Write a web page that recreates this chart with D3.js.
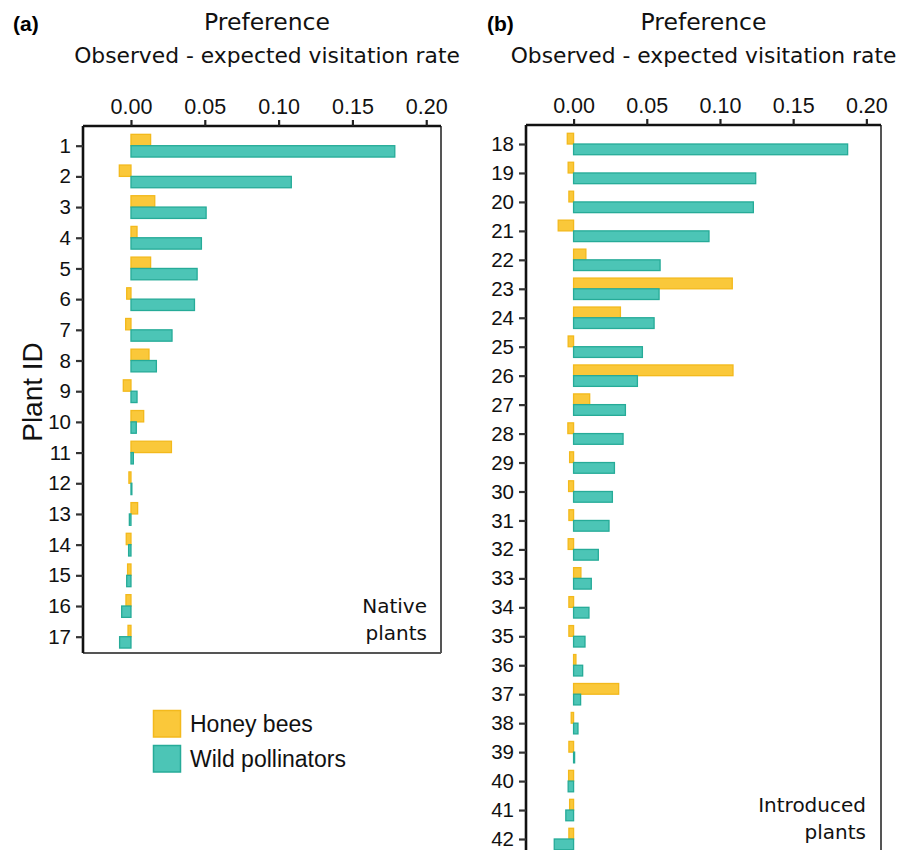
<!DOCTYPE html>
<html>
<head>
<meta charset="utf-8">
<script src="https://cdn.jsdelivr.net/npm/d3@7"></script>
<style>
  html, body { margin: 0; padding: 0; background: #fff; }
  svg { display: block; }
</style>
</head>
<body>
<svg id="chart" width="898" height="850"></svg>
<script>
// Plant IDs and preference (observed - expected visitation rate)
const plantsNative = [1,2,3,4,5,6,7,8,9,10,11,12,13,14,15,16,17];
const honeyNative = [0.0133,-0.0079,0.0161,0.0041,0.0133,-0.0029,-0.0036,0.0122,-0.0052,0.0086,0.0274,-0.0014,0.0045,-0.0032,-0.0023,-0.0034,-0.0020];
const wildNative  = [0.1787,0.1086,0.0509,0.0477,0.0448,0.0430,0.0278,0.0172,0.0041,0.0036,0.0016,0.0006,-0.0011,-0.0016,-0.0029,-0.0063,-0.0077];

const plantsIntroduced = [18,19,20,21,22,23,24,25,26,27,28,29,30,31,32,33,34,35,36,37,38,39,40,41,42];
const honeyIntroduced = [-0.0043,-0.0037,-0.0032,-0.0105,0.0084,0.1084,0.0320,-0.0037,0.1089,0.0110,-0.0039,-0.0027,-0.0034,-0.0032,-0.0037,0.0050,-0.0032,-0.0032,0.0016,0.0308,-0.0016,-0.0032,-0.0034,-0.0027,-0.0032];
const wildIntroduced  = [0.1872,0.1244,0.1228,0.0925,0.0591,0.0584,0.0550,0.0470,0.0436,0.0354,0.0338,0.0279,0.0265,0.0242,0.0169,0.0121,0.0105,0.0078,0.0062,0.0048,0.0030,0.0007,-0.0037,-0.0053,-0.0132];

const xTicks = [0, 0.05, 0.10, 0.15, 0.20];
const xTickLabels = ["0.00", "0.05", "0.10", "0.15", "0.20"];
const seriesNames = ["Honey bees", "Wild pollinators"];

const HONEY_FILL = "#fac83a", HONEY_STROKE = "#f3b91c";
const WILD_FILL = "#4cc5b6", WILD_STROKE = "#26ab98";
const TITLE_FONT = "'DejaVu Sans', sans-serif";
const AXIS_FONT = "'Liberation Sans', Arial, sans-serif";

const svg = d3.select("#chart");
const xDomain = [-0.0325, 0.21];

function panel(cfg) {
  const g = svg.append("g");
  const x = d3.scaleLinear().domain(xDomain).range([cfg.left, cfg.right]);
  const y = d3.scalePoint().domain(cfg.ids).range([cfg.firstRow, cfg.lastRow]);
  const step = y.step();
  const barH = step * 0.37;

  // panel letter and titles
  g.append("text").attr("x", cfg.letterX).attr("y", 31)
    .attr("font-family", AXIS_FONT).attr("font-weight", "bold").attr("font-size", 21)
    .text(cfg.letter);
  g.append("text").attr("x", cfg.titleX).attr("y", 30).attr("text-anchor", "middle")
    .attr("font-family", TITLE_FONT).attr("font-size", 23.5).attr("fill", "#111")
    .text("Preference");
  g.append("text").attr("x", cfg.titleX).attr("y", 63).attr("text-anchor", "middle")
    .attr("font-family", TITLE_FONT).attr("font-size", 21.8).attr("fill", "#111")
    .text("Observed - expected visitation rate");

  // bars
  const rows = cfg.ids.map((id, i) => ({ id, honey: cfg.honey[i], wild: cfg.wild[i] }));
  g.selectAll("rect.honey").data(rows).join("rect")
    .attr("class", "honey")
    .attr("x", d => x(Math.min(0, d.honey)))
    .attr("width", d => Math.abs(x(d.honey) - x(0)))
    .attr("y", d => y(d.id) - barH)
    .attr("height", barH)
    .attr("fill", HONEY_FILL).attr("stroke", HONEY_STROKE).attr("stroke-width", 1.3);
  g.selectAll("rect.wild").data(rows).join("rect")
    .attr("class", "wild")
    .attr("x", d => x(Math.min(0, d.wild)))
    .attr("width", d => Math.abs(x(d.wild) - x(0)))
    .attr("y", d => y(d.id))
    .attr("height", barH)
    .attr("fill", WILD_FILL).attr("stroke", WILD_STROKE).attr("stroke-width", 1.3);

  // frame: right and bottom edges lighter
  g.append("line").attr("x1", cfg.right).attr("x2", cfg.right).attr("y1", cfg.top).attr("y2", cfg.bottom)
    .attr("stroke", "#555").attr("stroke-width", 2);
  g.append("line").attr("x1", cfg.left).attr("x2", cfg.right).attr("y1", cfg.bottom).attr("y2", cfg.bottom)
    .attr("stroke", "#555").attr("stroke-width", 2);

  // top axis
  const xAxis = d3.axisTop(x).tickValues(xTicks).tickSize(6).tickPadding(6)
    .tickFormat((d, i) => xTickLabels[i]);
  const gx = g.append("g").attr("transform", `translate(0,${cfg.top})`).call(xAxis);
  gx.select(".domain").attr("stroke", "#111").attr("stroke-width", 2.6)
    .attr("d", `M${cfg.left},0H${cfg.right}`);
  gx.selectAll(".tick line").attr("stroke", "#222").attr("stroke-width", 2.2);
  gx.selectAll(".tick text").attr("font-family", AXIS_FONT).attr("font-size", 21.5).attr("fill", "#111");

  // left axis
  const yAxis = d3.axisLeft(y).tickSize(7).tickPadding(5);
  const gy = g.append("g").attr("transform", `translate(${cfg.left},0)`).call(yAxis);
  gy.select(".domain").attr("stroke", "#111").attr("stroke-width", 2.6)
    .attr("d", `M0,${cfg.top}V${cfg.bottom}`);
  gy.selectAll(".tick line").attr("stroke", "#333").attr("stroke-width", 2.2);
  gy.selectAll(".tick text").attr("font-family", AXIS_FONT).attr("font-size", 20.5).attr("fill", "#111");

  // group note
  const note = g.append("text").attr("text-anchor", "end")
    .attr("font-family", TITLE_FONT).attr("font-size", 20).attr("fill", "#111");
  note.append("tspan").attr("x", cfg.noteX).attr("y", cfg.noteY).text(cfg.note[0]);
  note.append("tspan").attr("x", cfg.noteX).attr("y", cfg.noteY + 27).text(cfg.note[1]);
}

panel({
  letter: "(a)", letterX: 13, titleX: 267,
  ids: plantsNative, honey: honeyNative, wild: wildNative,
  left: 83, right: 441, top: 126, bottom: 653,
  firstRow: 145.7, lastRow: 636.7,
  note: ["Native", "plants"], noteX: 427, noteY: 612.5
});

panel({
  letter: "(b)", letterX: 487, titleX: 703.5,
  ids: plantsIntroduced, honey: honeyIntroduced, wild: wildIntroduced,
  left: 526, right: 881, top: 125, bottom: 900,
  firstRow: 144, lastRow: 839,
  note: ["Introduced", "plants"], noteX: 866, noteY: 811.5
});

// y-axis title
svg.append("text")
  .attr("transform", "translate(42,392) rotate(-90)")
  .attr("text-anchor", "middle")
  .attr("font-family", AXIS_FONT).attr("font-size", 28).attr("fill", "#111")
  .text("Plant ID");

// legend
const legend = svg.append("g").attr("transform", "translate(153,710)");
const legendItems = [
  { name: seriesNames[0], fill: HONEY_FILL, stroke: HONEY_STROKE },
  { name: seriesNames[1], fill: WILD_FILL, stroke: WILD_STROKE }
];
const li = legend.selectAll("g").data(legendItems).join("g")
  .attr("transform", (d, i) => `translate(0,${i * 35})`);
li.append("rect").attr("x", 0.5).attr("y", 0.5).attr("width", 27).attr("height", 26.5)
  .attr("fill", d => d.fill).attr("stroke", d => d.stroke).attr("stroke-width", 1.5);
li.append("text").attr("x", 37).attr("y", 22)
  .attr("font-family", AXIS_FONT).attr("font-size", 23).attr("fill", "#111")
  .text(d => d.name);
</script>
</body>
</html>
